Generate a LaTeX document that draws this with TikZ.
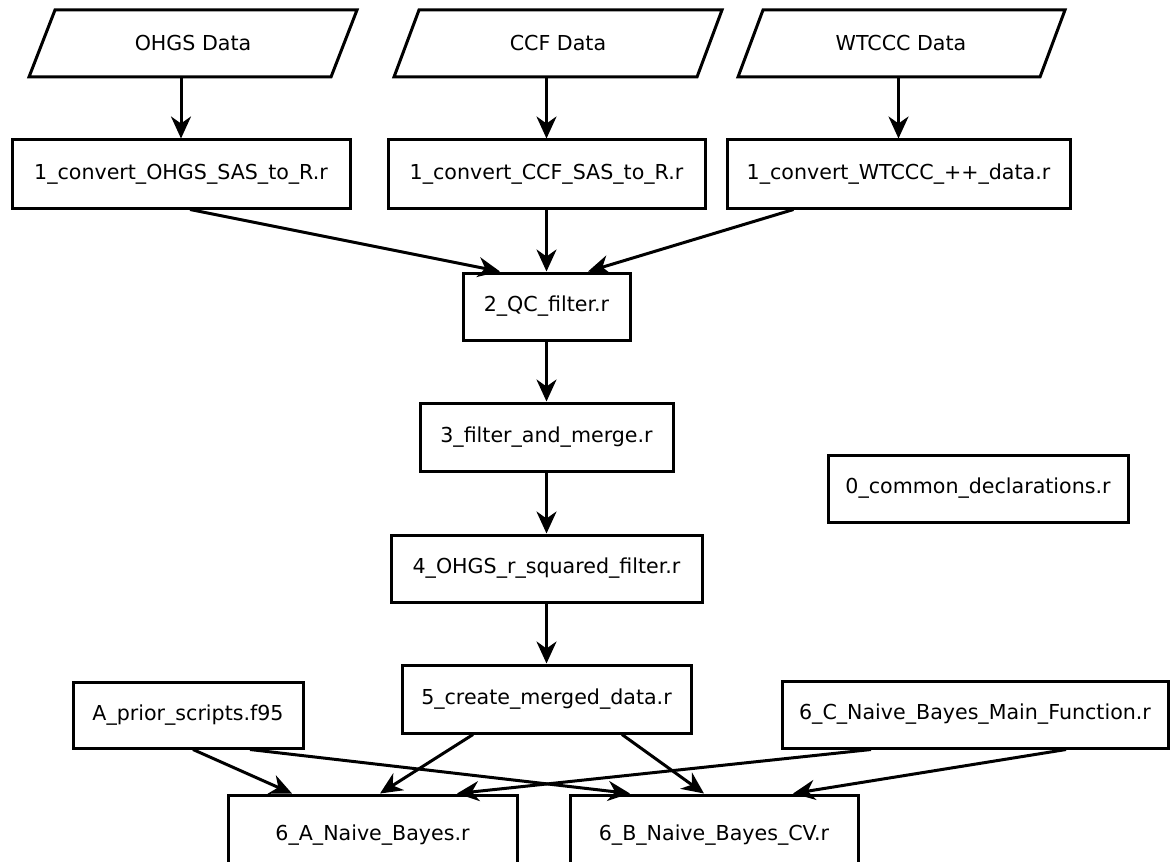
\documentclass[tikz,border=0pt]{standalone}
\usepackage{fontspec}
\setmainfont{DejaVu Sans}
\usetikzlibrary{arrows.meta,calc}
\begin{document}
\begin{tikzpicture}[x=0.5pt,y=-0.5pt,
  lbl/.style={font=\fontsize{10.3}{12}\selectfont},
  box/.style={lbl, draw=black, line width=1.5pt, fill=white, inner sep=0pt},
  datatext/.style={lbl, inner sep=0pt, minimum height=33.5pt, minimum width=120pt},
  paraline/.style={draw=black, line width=1.5pt, line join=miter},
  arr/.style={line width=1.5pt, -{Stealth[length=11pt,width=10pt,inset=3.5pt]}}
]
\clip (0,0) rectangle (1170,861);

% data parallelograms
\draw[paraline] (55,10) -- (357,10) -- (331,77) -- (29,77) -- cycle;
\draw[paraline] (419,10) -- (722,10) -- (697,77) -- (394,77) -- cycle;
\draw[paraline] (763,10) -- (1065,10) -- (1040,77) -- (738,77) -- cycle;
\node[datatext] (d1) at (193,43.5) {OHGS Data};
\node[datatext] (d2) at (558,43.5) {CCF Data};
\node[datatext] (d3) at (901,43.5) {WTCCC Data};

% boxes
\node[box, minimum width=169pt, minimum height=34pt] (b1) at (181,174) {1\_convert\_OHGS\_SAS\_to\_R.r};
\node[box, minimum width=158.5pt, minimum height=34pt] (b2) at (546.5,174) {1\_convert\_CCF\_SAS\_to\_R.r};
\node[box, minimum width=171.5pt, minimum height=34pt] (b3) at (898.5,174) {1\_convert\_WTCCC\_++\_data.r};
\node[box, minimum width=83.5pt, minimum height=33.5pt] (qc) at (546.5,306.5) {2\_QC\_filter.r};
\node[box, minimum width=126.5pt, minimum height=34pt] (filt) at (546.5,437) {3\_filter\_and\_merge.r};
\node[box, minimum width=150pt, minimum height=33.5pt] (common) at (978,488.5) {0\_common\_declarations.r};
\node[box, minimum width=155.5pt, minimum height=33.5pt] (rsq) at (546.5,568.5) {4\_OHGS\_r\_squared\_filter.r};
\node[box, minimum width=144.5pt, minimum height=34pt] (create) at (546.5,699) {5\_create\_merged\_data.r};
\node[box, minimum width=115pt, minimum height=33pt] (prior) at (188,715) {A\_prior\_scripts.f95};
\node[box, minimum width=193pt, minimum height=33.5pt] (mainf) at (975,714.5) {6\_C\_Naive\_Bayes\_Main\_Function.r};
\node[box, minimum width=144.5pt, minimum height=40pt] (nbA) at (372.5,835) {6\_A\_Naive\_Bayes.r};
\node[box, minimum width=144pt, minimum height=40pt] (nbB) at (714,835) {6\_B\_Naive\_Bayes\_CV.r};

% connectors
\draw[arr] (b1.north |- d1.south) -- (b1.north);
\draw[arr] (b2.north |- d2.south) -- (b2.north);
\draw[arr] (b3.north |- d3.south) -- (b3.north);

\draw[arr] ($(b1.south)+(9,0)$) -- ($(qc.north)+(-46.5,0)$);
\draw[arr] (b2.south) -- (qc.north);
\draw[arr] ($(b3.south)+(-105,0)$) -- ($(qc.north)+(41.5,0)$);

\draw[arr] (qc.south) -- (filt.north);
\draw[arr] (filt.south) -- (rsq.north);
\draw[arr] (rsq.south) -- (create.north);

\draw[arr] ($(prior.south)+(5,0)$) -- ($(nbA.north)+(-80.5,0)$);
\draw[arr] ($(prior.south)+(62,0)$) -- ($(nbB.north)+(-84,0)$);
\draw[arr] ($(create.south)+(-73.5,0)$) -- ($(nbA.north)+(7.5,0)$);
\draw[arr] ($(create.south)+(75.5,0)$) -- ($(nbB.north)+(-10,0)$);
\draw[arr] ($(mainf.south)+(-104,0)$) -- ($(nbA.north)+(84.5,0)$);
\draw[arr] ($(mainf.south)+(91,0)$) -- ($(nbB.north)+(79,0)$);
\end{tikzpicture}
\end{document}
